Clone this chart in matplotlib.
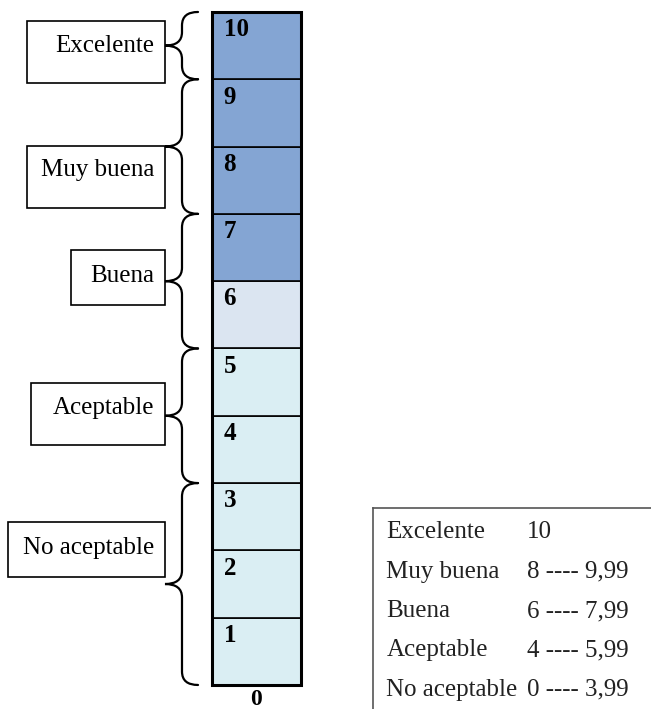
import matplotlib
matplotlib.use('Agg')
import matplotlib.pyplot as plt
from matplotlib.path import Path
from matplotlib.patches import PathPatch, Rectangle

plt.rcParams['font.family'] = ['Liberation Serif', 'DejaVu Serif']

# scale cells 1..10 and their fill
scores = [1, 2, 3, 4, 5, 6, 7, 8, 9, 10]
cell_colors = ['#DAEEF3', '#DAEEF3', '#DAEEF3', '#DAEEF3', '#DAEEF3',
               '#DBE5F1', '#84A5D3', '#84A5D3', '#84A5D3', '#84A5D3']

# groups shown by the braces: label, low, high
groups = ['Excelente', 'Muy buena', 'Buena', 'Aceptable', 'No aceptable']
group_low = [9, 7, 5, 3, 0]
group_high = [10, 9, 7, 5, 3]

# label boxes (left edge, bottom, top) in axis units
box_left = [-2.58, -2.58, -2.08, -2.53, -2.79]
box_bottom = [8.945, 7.09, 5.65, 3.57, 1.60]
box_top = [9.866, 8.01, 6.46, 4.49, 2.42]
text_y = [9.50, 7.65, 6.08, 4.12, 2.03]

# table on the right
table_labels = ['Excelente', 'Muy buena', 'Buena', 'Aceptable', 'No aceptable']
table_ranges = ['10', '8 ---- 9,99', '6 ---- 7,99', '4 ---- 5,99', '0 ---- 3,99']

fig = plt.figure(figsize=(6.51, 7.09), dpi=100)
ax = fig.add_axes([0, 0, 1, 1])
ax.set_xlim(-2.882, 4.433)
ax.set_ylim(-0.357, 10.178)
ax.axis('off')

# the column
for s, c in zip(scores, cell_colors):
    ax.bar(0, 1, bottom=s - 1, width=1, color=c, edgecolor='black', linewidth=1.2)
    ax.text(-0.37, s - 0.36, str(s), fontsize=18, fontweight='bold',
            ha='left', va='baseline')
ax.add_patch(Rectangle((-0.5, 0), 1, len(scores), fill=False,
                       edgecolor='black', linewidth=2.2))
ax.text(0, -0.30, '0', fontsize=17, fontweight='bold', ha='center', va='baseline')


def brace(y0, y1, x_tip=-1.028, x_line=-0.837, x_end=-0.657, r=0.2):
    ym = (y0 + y1) / 2
    verts = [(x_end, y1), (x_line, y1), (x_line, y1 - r),
             (x_line, ym + r),
             (x_line, ym), (x_tip, ym),
             (x_line, ym), (x_line, ym - r),
             (x_line, y0 + r),
             (x_line, y0), (x_end, y0)]
    codes = [Path.MOVETO, Path.CURVE3, Path.CURVE3,
             Path.LINETO,
             Path.CURVE3, Path.CURVE3,
             Path.CURVE3, Path.CURVE3,
             Path.LINETO,
             Path.CURVE3, Path.CURVE3]
    ax.add_patch(PathPatch(Path(verts, codes), fill=False,
                           edgecolor='black', linewidth=1.6, capstyle='round'))


for i, g in enumerate(groups):
    brace(group_low[i], group_high[i])
    ax.add_patch(Rectangle((box_left[i], box_bottom[i]), -1.028 - box_left[i],
                           box_top[i] - box_bottom[i], fill=False,
                           edgecolor='black', linewidth=1.2))
    ax.text(-1.15, text_y[i], g, fontsize=18, ha='right', va='center')

# table
ax.plot([1.31, 4.433], [2.63, 2.63], color='#555555', linewidth=1.2, clip_on=False)
ax.plot([1.31, 1.31], [2.63, -0.357], color='#555555', linewidth=1.2, clip_on=False)
for i, (lab, rng) in enumerate(zip(table_labels, table_ranges)):
    y = 2.18 - i * 0.585
    ax.text(1.46, y, lab, fontsize=18, ha='left', va='baseline', color='#222222')
    ax.text(3.04, y, rng, fontsize=18, ha='left', va='baseline', color='#222222')

fig.savefig('out.png', dpi=100)
